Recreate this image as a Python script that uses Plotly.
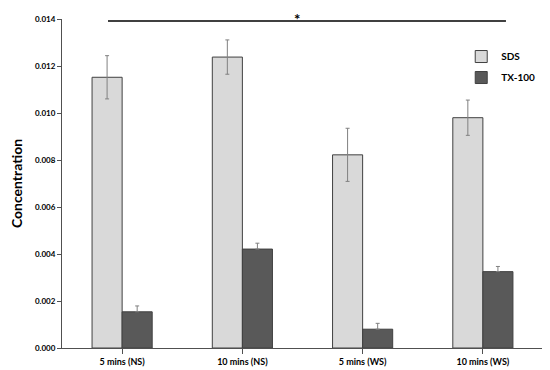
import plotly.graph_objects as go

categories = ["5 mins (NS)", "10 mins (NS)", "5 mins (WS)", "10 mins (WS)"]
sds = [0.01152, 0.01238, 0.00822, 0.00980]
sds_err = [0.00092, 0.00073, 0.00113, 0.00075]
tx = [0.00154, 0.00421, 0.00080, 0.00325]
tx_err = [0.00025, 0.00025, 0.00025, 0.00022]
y_ticks = [0.000, 0.002, 0.004, 0.006, 0.008, 0.010, 0.012, 0.014]
y_ticklabels = [f"<b>{v:.3f}</b>" for v in y_ticks]
x_ticklabels = [f"<b>{c}</b>" for c in categories]
sig_level = 0.01392

FONT = "Lato"
AXIS = "#505050"

fig = go.Figure()
fig.add_trace(go.Bar(
    x=categories, y=sds, name="<b>SDS</b>", legendgroup="a",
    marker=dict(color="#d9d9d9", line=dict(color="#404040", width=1)),
    error_y=dict(type="data", array=sds_err, color="#808080", thickness=1, width=2),
))
fig.add_trace(go.Bar(
    x=categories, y=tx, name="<b>TX-100</b>", legendgroup="b",
    marker=dict(color="#595959", line=dict(color="#404040", width=1)),
    error_y=dict(type="data", array=tx_err, arrayminus=[0, 0, 0, 0],
                 color="#808080", thickness=1, width=2),
))

fig.add_shape(type="line", xref="paper", yref="y", x0=0.0956, x1=0.923,
              y0=sig_level, y1=sig_level, line=dict(color="black", width=1.5))
fig.add_annotation(xref="paper", yref="paper", x=0.488, y=1.0334, yanchor="top",
                   text="<b>*</b>", showarrow=False,
                   font=dict(family=FONT, size=15, color="black"))

# page body has an 8px margin, so the figure is sized/placed to compensate
fig.update_layout(
    width=542, height=362,
    margin=dict(l=54, r=7, t=11, b=22, autoexpand=False),
    paper_bgcolor="white", plot_bgcolor="white",
    barmode="group", bargap=0.5, bargroupgap=0,
    showlegend=True,
    legend=dict(x=0.83, y=0.93, xanchor="left", yanchor="top",
                itemwidth=30,
                font=dict(family=FONT, size=10, color="black"),
                tracegroupgap=2, bgcolor="rgba(0,0,0,0)"),
    font=dict(family=FONT, color="black"),
)
fig.update_xaxes(
    tickvals=categories, ticktext=x_ticklabels,
    showline=True, linecolor=AXIS, linewidth=1,
    ticks="outside", ticklen=5, tickcolor=AXIS,
    tickfont=dict(family=FONT, size=9, color="black"),
    showgrid=False, range=[-0.5, 3.5], automargin=False,
)
fig.update_yaxes(
    range=[0, 0.014], tickvals=y_ticks, ticktext=y_ticklabels,
    showline=True, linecolor=AXIS, linewidth=1,
    ticks="outside", ticklen=4, tickcolor=AXIS,
    tickfont=dict(family=FONT, size=8, color="black"),
    showgrid=False, zeroline=False, automargin=False,
    title=dict(text="<b>Concentration</b>", standoff=15,
               font=dict(family=FONT, size=14, color="black")),
)

fig.write_html("out.html")
